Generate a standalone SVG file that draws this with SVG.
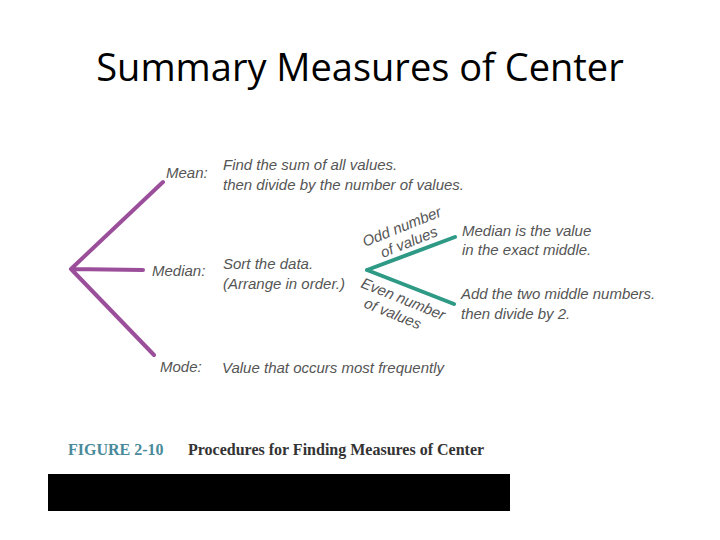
<svg xmlns="http://www.w3.org/2000/svg" width="720" height="540" viewBox="0 0 720 540">
<style>
.h{font-family:"Liberation Sans",Arial,sans-serif;font-size:15px;fill:#555;font-style:italic}
.m{stroke:#9b4f9b;stroke-width:4;stroke-linecap:round;fill:none}
.t{stroke:#2e9a86;stroke-width:4;stroke-linecap:round;fill:none}
.c{font-family:"Liberation Serif",serif;font-weight:bold;font-size:16px}
</style>
<rect width="720" height="540" fill="#fff"/>
<text x="360" y="81" text-anchor="middle" font-family="Open Sans,Liberation Sans,sans-serif" font-size="38" fill="#000">Summary Measures of Center</text>
<g id="connectors">
<path class="m" d="M71,269L163,182M71,269L143,270M71,269L154,355"/>
<path class="t" d="M367,270L455,237M367,270L454,304"/>
</g>
<g id="mean"><text class="h" x="166" y="178">Mean:</text><text class="h" x="223" y="170">Find the sum of all values.</text><text class="h" x="223" y="190">then divide by the number of values.</text></g>
<g id="median"><text class="h" x="152" y="276">Median:</text><text class="h" x="223" y="269">Sort the data.</text><text class="h" x="223" y="289">(Arrange in order.)</text></g>
<g id="mode"><text class="h" x="160" y="372">Mode:</text><text class="h" x="222" y="373">Value that occurs most frequently</text></g>
<g id="odd"><text class="h" transform="translate(365,247) rotate(-22)">Odd number</text><text class="h" transform="translate(383,258) rotate(-22)">of values</text></g>
<g id="even"><text class="h" transform="translate(360,287) rotate(22)">Even number</text><text class="h" transform="translate(363,307) rotate(22)">of values</text></g>
<g id="oddres"><text class="h" x="462" y="236">Median is the value</text><text class="h" x="462" y="255">in the exact middle.</text></g>
<g id="evenres"><text class="h" x="461" y="299">Add the two middle numbers.</text><text class="h" x="461" y="319">then divide by 2.</text></g>
<text class="c" x="68" y="455" fill="#4a8a9a">FIGURE 2-10</text>
<text class="c" x="188" y="455" fill="#333">Procedures for Finding Measures of Center</text>
<rect x="48" y="474" width="462" height="37" fill="#000"/>
</svg>
